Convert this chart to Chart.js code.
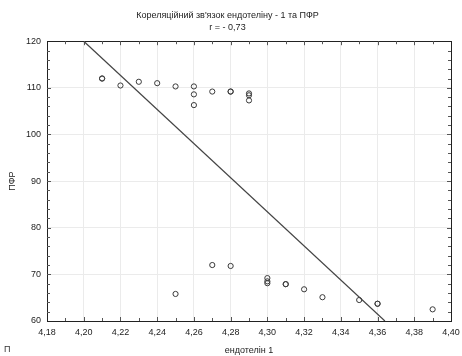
<!DOCTYPE html>
<html>
<head>
<meta charset="utf-8">
<script src="https://cdn.jsdelivr.net/npm/chart.js@4.4.1/dist/chart.umd.min.js"></script>
<style>
html,body{margin:0;padding:0;background:#fff;}
#wrap{position:relative;width:462px;height:356px;}
#note{position:absolute;left:4px;top:344px;font:9px "Liberation Sans",Arial,sans-serif;color:#333;}
</style>
</head>
<body>
<div id="wrap"><canvas id="c" width="462" height="356"></canvas><div id="note">П</div></div>
<script>
// ---- data ----
const titleLines = ["Кореляційний зв'язок ендотеліну - 1 та ПФР", "r = - 0,73"];
const xTitle = "ендотелін 1";
const yTitle = "ПФР";
const endothelin = [4.21, 4.21, 4.22, 4.23, 4.24, 4.25, 4.26, 4.26, 4.26, 4.27, 4.28, 4.28, 4.29, 4.29, 4.29,
                    4.25, 4.27, 4.28, 4.30, 4.30, 4.30, 4.31, 4.31, 4.32, 4.33, 4.35, 4.36, 4.36, 4.39];
const pfr        = [112.0, 112.0, 110.5, 111.3, 111.0, 110.3, 110.3, 108.6, 106.3, 109.2, 109.2, 109.2, 108.8, 108.4, 107.3,
                    65.8, 72.0, 71.8, 69.2, 68.5, 68.1, 67.9, 67.9, 66.8, 65.1, 64.5, 63.7, 63.7, 62.5];
const fitX = [4.200, 4.364];
const fitY = [120, 60];
const xTicks = [4.18, 4.20, 4.22, 4.24, 4.26, 4.28, 4.30, 4.32, 4.34, 4.36, 4.38, 4.40];
const yTicks = [60, 70, 80, 90, 100, 110, 120];
const xMinorStep = 0.01;
const yMinorStep = 2;

const FONT = '"Liberation Sans", Arial, sans-serif';

const framePlugin = {
  id: 'frame',
  afterDatasetsDraw(chart) {
    const {ctx, chartArea: a, scales: {x, y}} = chart;
    ctx.save();
    ctx.strokeStyle = '#222';
    ctx.lineWidth = 1;
    ctx.strokeRect(Math.round(a.left) + 0.5, Math.round(a.top) + 0.5, Math.round(a.right - a.left), Math.round(a.bottom - a.top));
    ctx.strokeStyle = '#555';
    ctx.beginPath();
    const n = Math.round((x.max - x.min) / xMinorStep);
    for (let i = 1; i < n; i++) {
      const px = Math.round(x.getPixelForValue(x.min + i * xMinorStep)) + 0.5;
      const len = (i % 2 === 0) ? 4 : 3;
      ctx.moveTo(px, a.bottom); ctx.lineTo(px, a.bottom - len);
      ctx.moveTo(px, a.top); ctx.lineTo(px, a.top + len);
    }
    const m = Math.round((y.max - y.min) / yMinorStep);
    for (let i = 1; i < m; i++) {
      const py = Math.round(y.getPixelForValue(y.min + i * yMinorStep)) + 0.5;
      const len = ((i * yMinorStep) % 10 === 0) ? 4 : 3;
      ctx.moveTo(a.left, py); ctx.lineTo(a.left + len, py);
      ctx.moveTo(a.right, py); ctx.lineTo(a.right - len, py);
    }
    ctx.stroke();
    ctx.restore();
  }
};

new Chart(document.getElementById('c'), {
  data: {
    datasets: [
      {
        type: 'scatter',
        data: endothelin.map((v, i) => ({x: v, y: pfr[i]})),
        pointStyle: 'circle',
        pointRadius: 2.6,
        pointBorderWidth: 1,
        pointBorderColor: '#3a3a3a',
        pointBackgroundColor: 'rgba(255,255,255,0)',
        order: 2
      },
      {
        type: 'line',
        data: fitX.map((v, i) => ({x: v, y: fitY[i]})),
        borderColor: '#444',
        borderWidth: 1.2,
        pointRadius: 0,
        fill: false,
        order: 1
      }
    ]
  },
  options: {
    responsive: false,
    animation: false,
    events: [],
    layout: {padding: {left: 4, right: 11, top: 0, bottom: 0}},
    plugins: {
      legend: {display: false},
      tooltip: {enabled: false},
      title: {
        display: true,
        text: titleLines,
        color: '#222',
        font: {family: FONT, size: 9, weight: 'normal', lineHeight: 1.4},
        padding: {top: 9, bottom: 7}
      }
    },
    scales: {
      x: {
        type: 'linear',
        min: 4.18, max: 4.40,
        afterBuildTicks(s) { s.ticks = xTicks.map(v => ({value: v})); },
        afterFit(s) { s.height = 35; s.paddingLeft = 0; s.paddingRight = 0; },
        grid: {display: true, color: '#ebebeb', drawTicks: false},
        border: {display: false},
        ticks: {
          color: '#222', font: {family: FONT, size: 9}, padding: 6, maxRotation: 0,
          callback: v => v.toFixed(2).replace('.', ',')
        },
        title: {display: true, text: xTitle, color: '#222', font: {family: FONT, size: 9}, padding: {top: 2, bottom: 0}}
      },
      y: {
        type: 'linear',
        min: 60, max: 120,
        afterBuildTicks(s) { s.ticks = yTicks.map(v => ({value: v})); },
        afterFit(s) { s.width = 43; s.paddingTop = 0; s.paddingBottom = 0; },
        grid: {display: true, color: '#ebebeb', drawTicks: false},
        border: {display: false},
        ticks: {color: '#222', font: {family: FONT, size: 9}, padding: 6},
        title: {display: true, text: yTitle, color: '#222', font: {family: FONT, size: 9}, padding: {top: 3, bottom: 4}}
      }
    }
  },
  plugins: [framePlugin]
});
</script>
</body>
</html>
